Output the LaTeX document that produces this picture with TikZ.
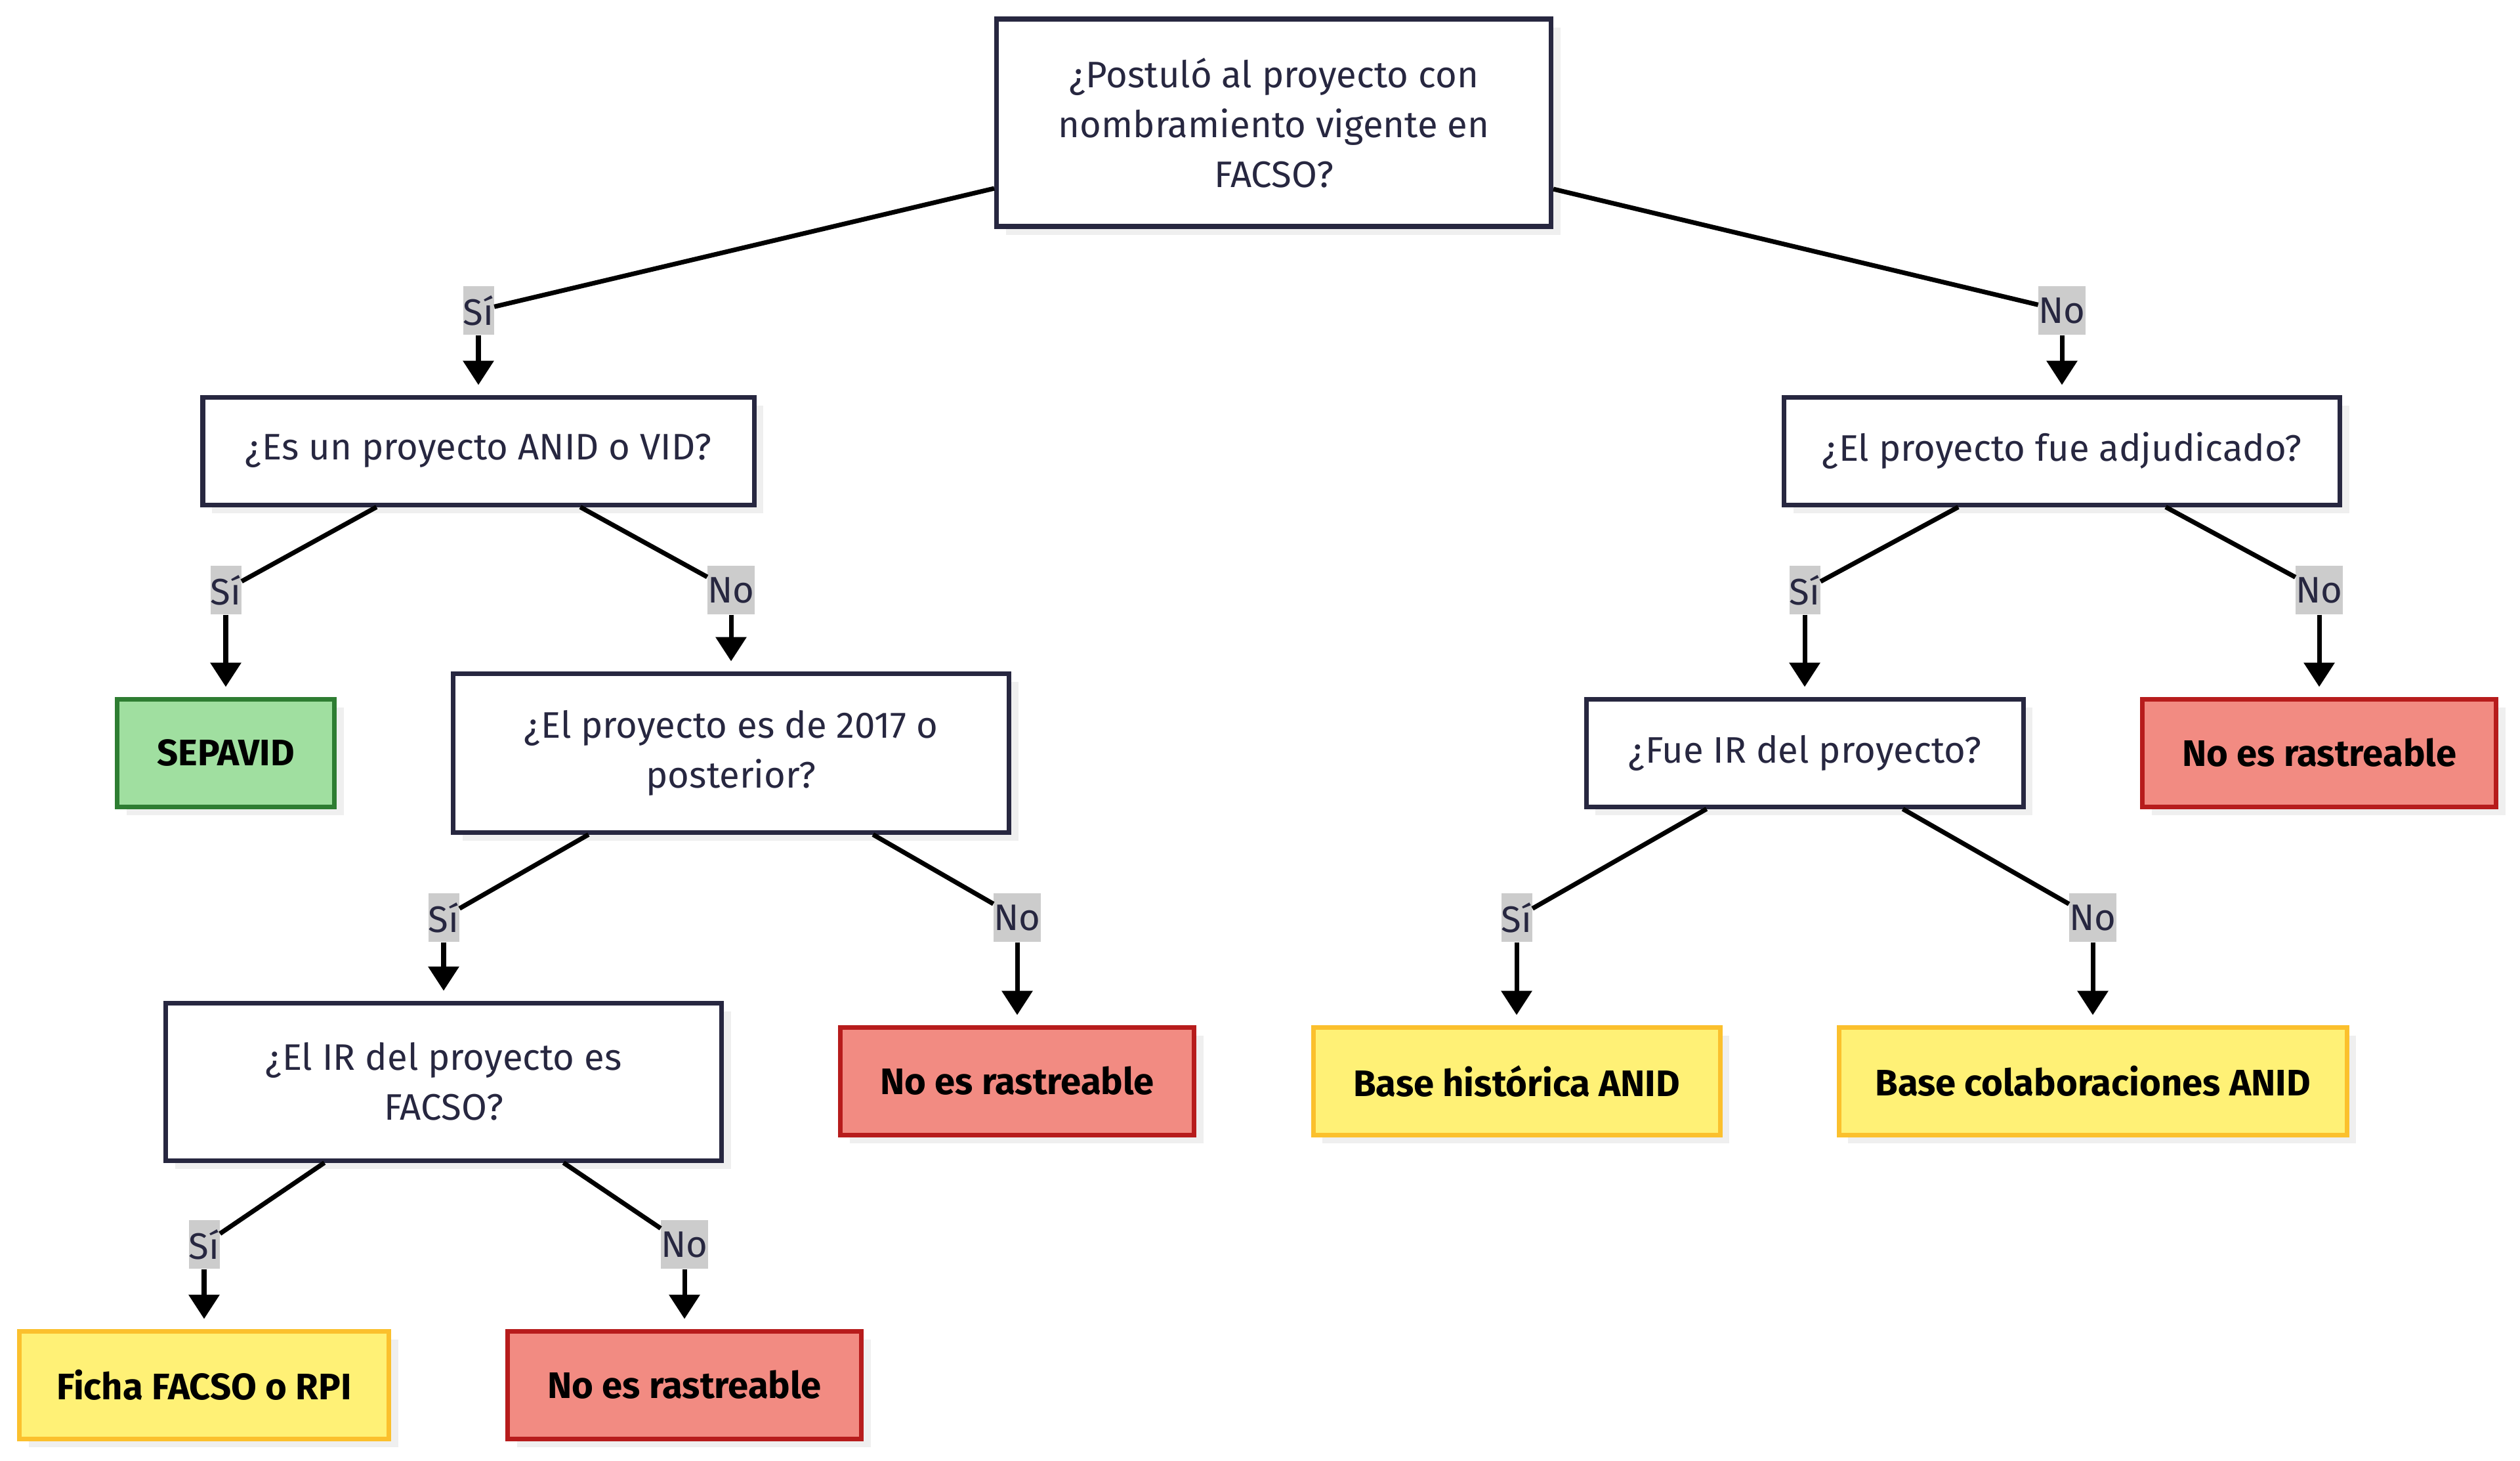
\documentclass[tikz,border=0pt]{standalone}
\usepackage{fontspec}
\setmainfont{Fira Sans}
\usepackage{xcolor}
\usetikzlibrary {arrows.meta, shadows}

\definecolor{navy}{HTML}{272740}
\definecolor{labelgray}{HTML}{CCCCCC}
\definecolor{shadowgray}{HTML}{EFEFEF}
\definecolor{okfill}{HTML}{A0DFA0}
\definecolor{okline}{HTML}{2E7D32}
\definecolor{basefill}{HTML}{FFF176}
\definecolor{baseline}{HTML}{FBC02D}
\definecolor{nofill}{HTML}{F28B82}
\definecolor{noline}{HTML}{B71C1C}

\begin{document}
\begin{tikzpicture}[
    font=\fontsize{16}{21.6}\selectfont,
    question/.style={draw=navy, line width=2pt, fill=white, text=navy, align=center,
      inner sep=0pt, minimum width=8.45cm, minimum height=1.64cm,
      drop shadow={shadow xshift=0.14cm, shadow yshift=-0.13cm, fill=shadowgray, opacity=1}},
    leaf/.style={question, font=\fontsize{16}{21.6}\selectfont\bfseries, text=black},
    sepavidbox/.style={leaf, draw=okline, fill=okfill},
    basebox/.style={leaf, draw=baseline, fill=basefill},
    nobox/.style={leaf, draw=noline, fill=nofill, minimum width=5.39cm},
    answer/.style={fill=labelgray, text=navy, inner sep=0pt, minimum height=0.74cm, minimum width=0.47cm},
    link/.style={line width=2pt},
    arrowlink/.style={line width=2pt, -{Triangle[length=0.37cm, width=0.46cm]}, shorten >=0.15cm}
  ]
  \useasboundingbox (0, 0) rectangle (38.4, -22.25);

  \node[question, minimum height=3.16cm] (postulo) at (19.41, -1.87)
    {¿Postuló al proyecto con\\nombramiento vigente en\\FACSO?};
  \node[question, minimum width=8.40cm] (anid) at (7.29, -6.87) {¿Es un proyecto ANID o VID?};
  \node[question, minimum width=8.47cm] (adjudicado) at (31.42, -6.87) {¿El proyecto fue adjudicado?};
  \node[sepavidbox, minimum width=3.31cm] (sepavid) at (3.44, -11.47) {SEPAVID};
  \node[question, minimum width=8.47cm, minimum height=2.42cm] (anio) at (11.14, -11.47)
    {¿El proyecto es de 2017 o\\posterior?};
  \node[question, minimum width=6.66cm] (fueir) at (27.50, -11.47) {¿Fue IR del proyecto?};
  \node[nobox] (norast1) at (35.34, -11.47) {No es rastreable};
  \node[question, minimum width=8.47cm, minimum height=2.40cm] (irfacso) at (6.76, -16.48)
    {¿El IR del proyecto es\\FACSO?};
  \node[nobox] (norast2) at (15.50, -16.47) {No es rastreable};
  \node[basebox, minimum width=6.20cm] (historica) at (23.11, -16.47) {Base histórica ANID};
  \node[basebox, minimum width=7.74cm] (colab) at (31.89, -16.47) {Base colaboraciones ANID};
  \node[basebox, minimum width=5.63cm] (ficha) at (3.11, -21.10) {Ficha FACSO o RPI};
  \node[nobox] (norast3) at (10.43, -21.10) {No es rastreable};

  \node[answer] (si1) at (7.29, -4.73) {Sí};
  \node[answer, minimum width=0.65cm] (no1) at (31.42, -4.73) {No};
  \node[answer] (si2) at (3.44, -8.99) {Sí};
  \node[answer, minimum width=0.65cm] (no2) at (11.14, -8.99) {No};
  \node[answer] (si3) at (27.50, -8.99) {Sí};
  \node[answer, minimum width=0.65cm] (no3) at (35.34, -8.99) {No};
  \node[answer] (si4) at (6.76, -13.98) {Sí};
  \node[answer, minimum width=0.65cm] (no4) at (15.50, -13.98) {No};
  \node[answer] (si5) at (23.11, -13.98) {Sí};
  \node[answer, minimum width=0.65cm] (no5) at (31.89, -13.98) {No};
  \node[answer] (si6) at (3.11, -18.96) {Sí};
  \node[answer, minimum width=0.65cm] (no6) at (10.43, -18.96) {No};

  \draw[link] (postulo) -- (si1);
  \draw[arrowlink] (si1) -- (anid);
  \draw[link] (postulo) -- (no1);
  \draw[arrowlink] (no1) -- (adjudicado);
  \draw[link] (anid) -- (si2);
  \draw[arrowlink] (si2) -- (sepavid);
  \draw[link] (anid) -- (no2);
  \draw[arrowlink] (no2) -- (anio);
  \draw[link] (adjudicado) -- (si3);
  \draw[arrowlink] (si3) -- (fueir);
  \draw[link] (adjudicado) -- (no3);
  \draw[arrowlink] (no3) -- (norast1);
  \draw[link] (anio) -- (si4);
  \draw[arrowlink] (si4) -- (irfacso);
  \draw[link] (anio) -- (no4);
  \draw[arrowlink] (no4) -- (norast2);
  \draw[link] (fueir) -- (si5);
  \draw[arrowlink] (si5) -- (historica);
  \draw[link] (fueir) -- (no5);
  \draw[arrowlink] (no5) -- (colab);
  \draw[link] (irfacso) -- (si6);
  \draw[arrowlink] (si6) -- (ficha);
  \draw[link] (irfacso) -- (no6);
  \draw[arrowlink] (no6) -- (norast3);
\end{tikzpicture}
\end{document}
